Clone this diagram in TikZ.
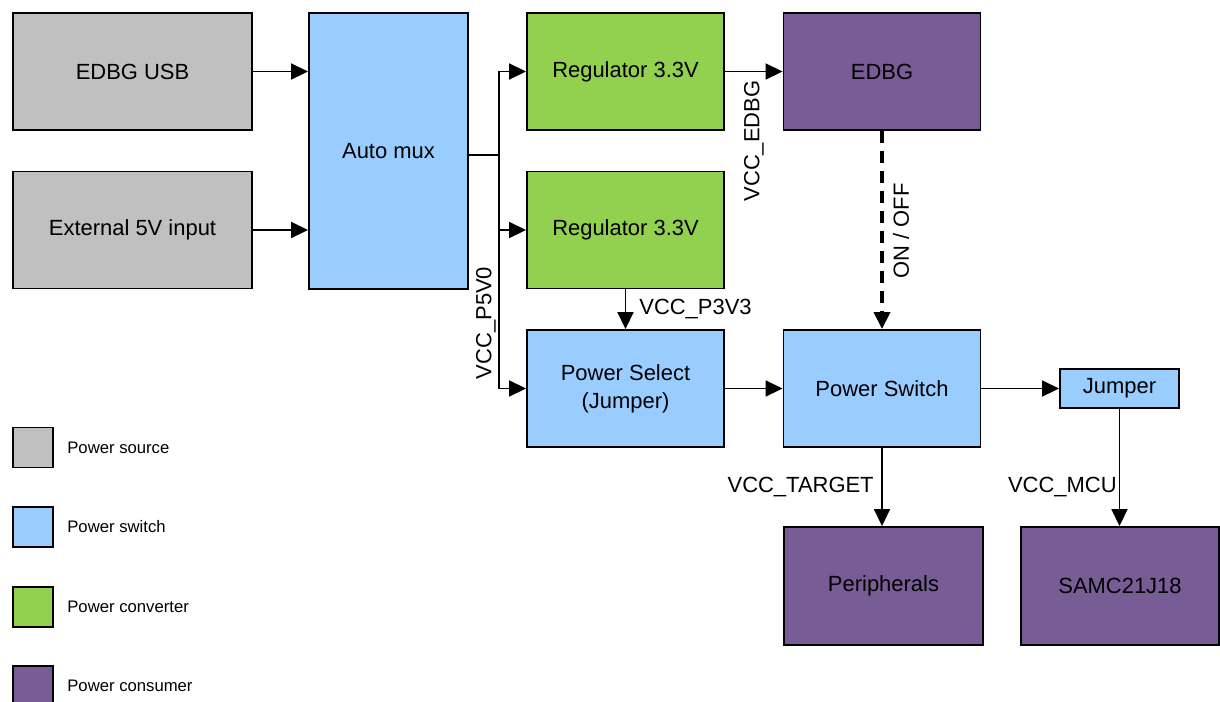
\documentclass[tikz,border=0pt]{standalone}
\usepackage{fontspec}
\setmainfont{Liberation Sans}
\usetikzlibrary{arrows.meta}
\definecolor{srcgray}{HTML}{C0C0C0}
\definecolor{swblue}{HTML}{99CCFF}
\definecolor{convgreen}{HTML}{92D050}
\definecolor{conspurple}{HTML}{775C95}
\tikzset{
  box/.style={draw=black, line width=1.1pt, rectangle, inner sep=0pt, align=center,
    font=\fontsize{12.5}{16}\selectfont},
  bigbox/.style={box, minimum width=3.94cm, minimum height=2.34cm},
  srcbox/.style={box, fill=srcgray, minimum width=4.78cm, minimum height=2.34cm},
  legsq/.style={draw=black, line width=1.1pt, rectangle, minimum width=0.8cm, minimum height=0.8cm, inner sep=0pt},
  legtxt/.style={anchor=west, inner sep=0pt, font=\fontsize{9.5}{11}\selectfont},
  lbl/.style={inner sep=0pt, font=\fontsize{12.5}{15}\selectfont},
  conn/.style={line width=1pt, -{Triangle[length=0.34cm, width=0.32cm]}},
  wire/.style={line width=1pt},
  dashconn/.style={line width=2.2pt, dash pattern=on 0.24cm off 0.16cm, -{Triangle[length=0.34cm, width=0.32cm]}}
}
\begin{document}
\begin{tikzpicture}[x=0.02cm, y=-0.02cm]
\useasboundingbox (0,0) rectangle (1220,701);
% sources
\node[srcbox] (usb) at (132.5,71.5) {EDBG USB};
\node[srcbox] (ext) at (132.5,230) {External 5V input};
% auto mux
\node[box, fill=swblue, minimum width=3.18cm, minimum height=5.52cm] (mux) at (388.5,151) {Auto mux};
% regulators
\node[bigbox, fill=convgreen] (reg1) at (625.5,71.5) {Regulator 3.3V};
\node[bigbox, fill=convgreen] (reg2) at (625.5,230) {Regulator 3.3V};
\node[bigbox, fill=swblue] (psel) at (625.5,388.5) {Power Select\\(Jumper)};
% EDBG and switch
\node[bigbox, fill=conspurple] (edbg) at (882,71.5) {EDBG};
\node[bigbox, fill=swblue] (psw) at (882,388.5) {Power Switch};
\node[box, fill=swblue, minimum width=2.38cm, minimum height=0.78cm] (jmp) at (1119.5,388.5) {Jumper};
% consumers
\node[box, fill=conspurple, minimum width=3.98cm, minimum height=2.36cm] (per) at (883.5,586) {Peripherals};
\node[box, fill=conspurple, minimum width=3.96cm, minimum height=2.36cm] (samc) at (1120,586) {SAMC21J18};

% connectors
\draw[conn] (usb.east) -- (mux.west |- usb.east);
\draw[conn] (ext.east) -- (mux.west |- ext.east);
\coordinate (bus) at (499,155);
\draw[wire] (mux.east |- bus) -- (bus);
\draw[conn] (bus) |- (reg1.west);
\draw[conn] (bus) |- (reg2.west);
\draw[conn] (bus) |- (psel.west);
\draw[conn] (reg1.east) -- (edbg.west);
\draw[conn] (reg2.south) -- (psel.north);
\draw[dashconn] (edbg.south) -- (psw.north);
\draw[conn] (psel.east) -- (psw.west);
\draw[conn] (psw.east) -- (psw.east -| jmp.west);
\draw[conn] (psw.south) -- (psw.south |- per.north);
\draw[conn] (jmp.south) -- (jmp.south |- samc.north);

% labels
\node[lbl, rotate=90] (l5v0) at (486,323) {VCC\_P5V0};
\node[lbl, rotate=90] (ledbg) at (754,141) {VCC\_EDBG};
\node[lbl, rotate=90] (lonoff) at (901,231) {ON / OFF};
\node[lbl, anchor=west] (l3v3) at (639,309) {VCC\_P3V3};
\node[lbl, anchor=east] (ltgt) at (874,487) {VCC\_TARGET};
\node[lbl, anchor=east] (lmcu) at (1117,487) {VCC\_MCU};

% legend
\node[legsq, fill=srcgray] (k1) at (33,447.5) {};
\node[legtxt] (t1) at (67,447.5) {Power source};
\node[legsq, fill=swblue] (k2) at (33,527) {};
\node[legtxt] (t2) at (67,527) {Power switch};
\node[legsq, fill=convgreen] (k3) at (33,607) {};
\node[legtxt] (t3) at (67,607) {Power converter};
\node[legsq, fill=conspurple] (k4) at (33,686) {};
\node[legtxt] (t4) at (67,686) {Power consumer};
\end{tikzpicture}
\end{document}
